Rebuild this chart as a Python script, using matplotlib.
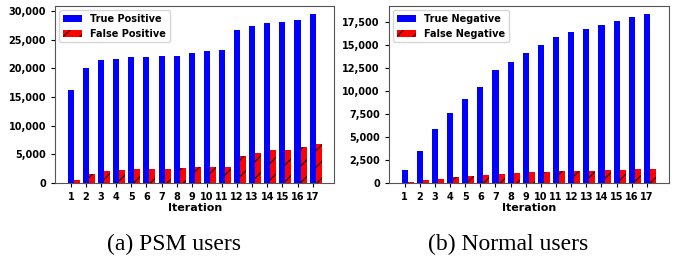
import numpy as np
import matplotlib.pyplot as plt
from matplotlib.ticker import FuncFormatter

iterations = list(range(1, 18))
true_pos = [16200, 20000, 21400, 21700, 21950, 21950, 22100, 22100, 22650,
            22950, 23100, 26600, 27400, 27850, 28000, 28400, 29400]
false_pos = [525, 1580, 2100, 2280, 2400, 2400, 2400, 2550, 2700,
             2800, 2800, 4790, 5300, 5720, 5720, 6190, 6830]
true_neg = [1380, 3460, 5860, 7600, 9090, 10480, 12300, 13170, 14150,
            15020, 15900, 16440, 16770, 17200, 17640, 18080, 18330]
false_neg = [110, 290, 440, 650, 760, 870, 980, 1090, 1160,
             1240, 1310, 1310, 1310, 1420, 1420, 1490, 1490]

plt.rcParams['font.weight'] = 'bold'
plt.rcParams['hatch.linewidth'] = 0.7

fig = plt.figure(figsize=(6.81, 2.57), dpi=100)
ax1 = fig.add_axes([0.081, 0.288, 0.41, 0.689])
ax2 = fig.add_axes([0.571, 0.288, 0.411, 0.689])

x = np.array(iterations)
w = 0.4
comma = FuncFormatter(lambda v, p: '{:,.0f}'.format(v))

for ax, a, b, la, lb in [(ax1, true_pos, false_pos, 'True Positive', 'False Positive'),
                         (ax2, true_neg, false_neg, 'True Negative', 'False Negative')]:
    ax.bar(x, a, w, color='blue', label=la)
    ax.bar(x + w, b, w, color='red', hatch='//', label=lb)
    ax.set_xticks(x)
    ax.set_xticklabels([str(i) for i in iterations])
    ax.yaxis.set_major_formatter(comma)
    ax.tick_params(labelsize=7, length=3)
    for lab in ax.get_xticklabels() + ax.get_yticklabels():
        lab.set_fontweight('bold')
    ax.set_xlabel('Iteration', fontsize=8, fontweight='bold', labelpad=1)
    for s in ax.spines.values():
        s.set_color('#555555')
    ax.legend(loc='upper left', prop={'weight': 'bold', 'size': 7},
              handlelength=2.0, borderaxespad=0.4)

ax2.set_yticks([0, 2500, 5000, 7500, 10000, 12500, 15000, 17500])

fig.text(0.256, 0.05, '(a) PSM users', family='Liberation Serif', fontsize=17,
         ha='center', va='center', fontweight='normal')
fig.text(0.746, 0.05, '(b) Normal users', family='Liberation Serif', fontsize=17,
         ha='center', va='center', fontweight='normal')

fig.savefig('out.png', dpi=100)
